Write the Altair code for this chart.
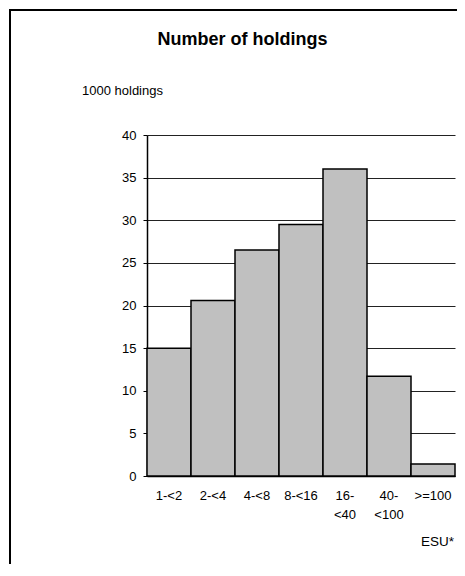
import altair as alt
import pandas as pd

categories = ["1-<2", "2-<4", "4-<8", "8-<16", "16-|<40", "40-|<100", ">=100"]
values = [15.0, 20.6, 26.5, 29.5, 36.0, 11.7, 1.4]
y_ticks = [0, 5, 10, 15, 20, 25, 30, 35, 40]
title_text = "Number of holdings"
y_unit = "1000 holdings"
x_unit = "ESU*"

FONT = "Liberation Sans"

df = pd.DataFrame({"cat": categories, "val": values})

bars = alt.Chart(df).mark_bar(
    color="#C0C0C0", stroke="black", strokeWidth=1.5
).encode(
    x=alt.X(
        "cat:N",
        sort=categories,
        scale=alt.Scale(paddingInner=0, paddingOuter=0),
        axis=alt.Axis(
            title=None, labelAngle=0, labelExpr="split(datum.label, '|')",
            ticks=False, tickSize=0, labelPadding=13, labelFontSize=13,
            labelLineHeight=19, labelFont=FONT, labelColor="black",
            domainColor="black", domainWidth=1.5, grid=False,
        ),
    ),
    y=alt.Y(
        "val:Q",
        scale=alt.Scale(domain=[0, 40], nice=False),
        axis=alt.Axis(
            title=None, values=y_ticks, grid=True, gridColor="#222",
            gridWidth=1, tickSize=4, tickColor="black", tickWidth=1,
            labelPadding=7, labelFontSize=13, labelFont=FONT,
            labelColor="black", domainColor="black", domainWidth=1.5,
        ),
    ),
)

frame = alt.Chart(pd.DataFrame({"a": [0]})).mark_rect(
    fillOpacity=0, stroke="black", strokeWidth=2
).encode(
    x=alt.value(-137), x2=alt.value(420), y=alt.value(-125), y2=alt.value(600)
)

title = alt.Chart(pd.DataFrame({"t": [title_text]})).mark_text(
    font=FONT, fontSize=18, fontWeight="bold", align="center",
    baseline="alphabetic", color="black"
).encode(text="t:N", x=alt.value(95.5), y=alt.value(-90))

ylab = alt.Chart(pd.DataFrame({"t": [y_unit]})).mark_text(
    font=FONT, fontSize=13, align="left", baseline="alphabetic", color="black"
).encode(text="t:N", x=alt.value(-65), y=alt.value(-40))

xlab = alt.Chart(pd.DataFrame({"t": [x_unit]})).mark_text(
    font=FONT, fontSize=13.5, align="right", baseline="alphabetic", color="black"
).encode(text="t:N", x=alt.value(307), y=alt.value(411))

chart = alt.layer(frame, bars, title, ylab, xlab).properties(
    width=308, height=341,
    autosize=alt.AutoSizeParams(type="none"),
    padding={"left": 139, "top": 127, "right": 2, "bottom": 88},
).configure_view(stroke=None)

chart.save("out.html", embed_options={"renderer": "svg", "actions": False})
